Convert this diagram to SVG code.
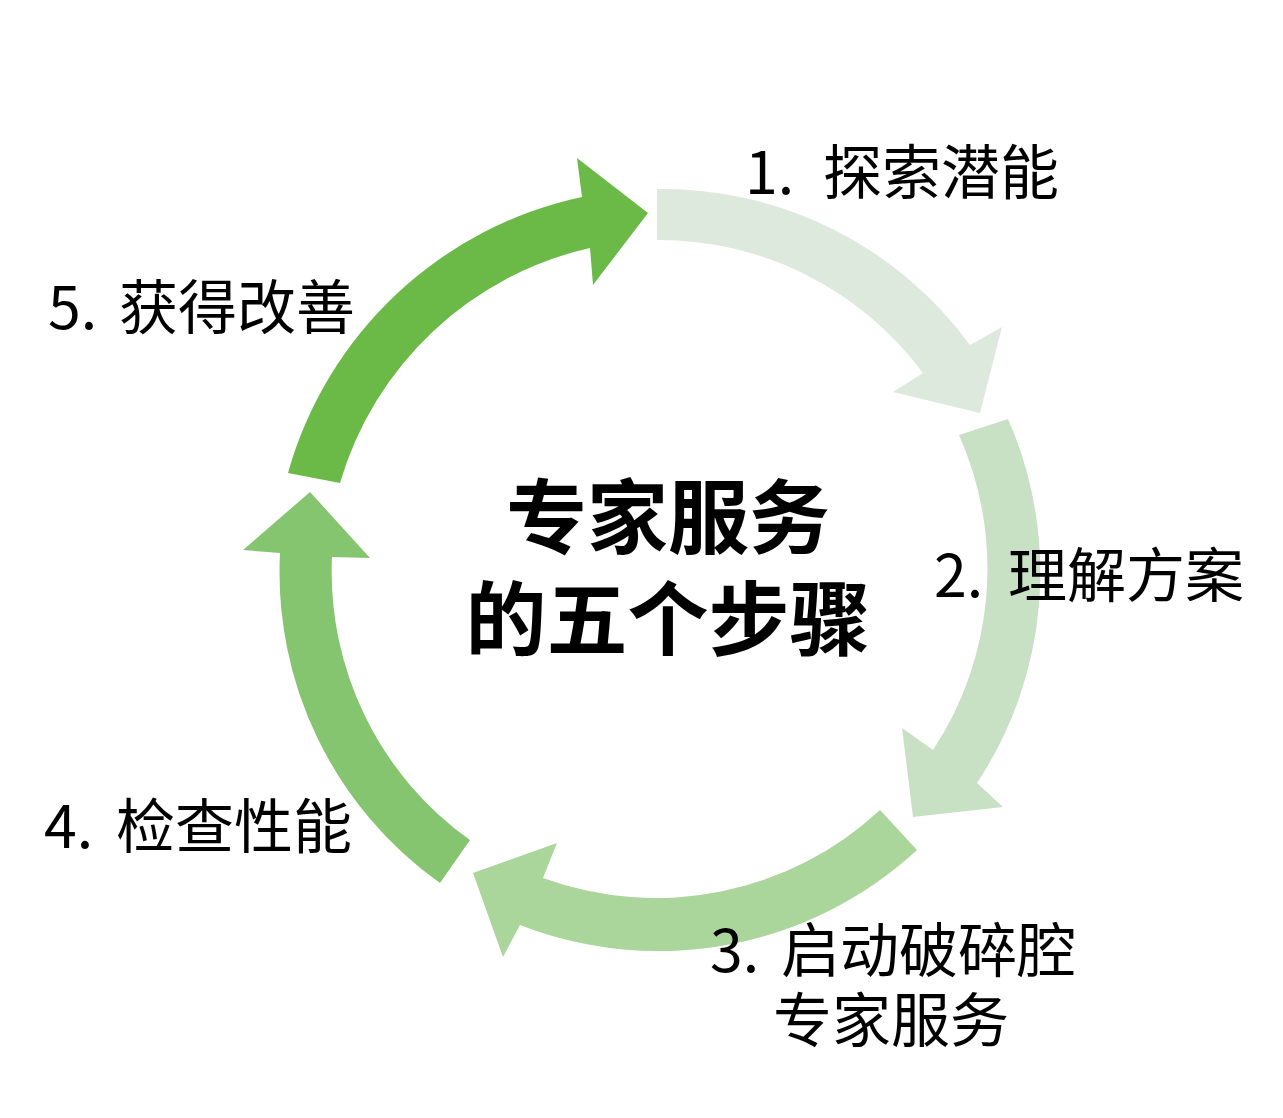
<svg xmlns="http://www.w3.org/2000/svg" width="1283" height="1118" viewBox="0 0 1283 1118">
<style>
.lbl{font-family:"Noto Sans CJK SC","Noto Sans",sans-serif;font-size:59px;fill:#000}
.title{font-family:"Noto Sans CJK SC","Noto Sans",sans-serif;font-size:81px;font-weight:700;fill:#000;text-anchor:middle}
</style>
<rect width="1283" height="1118" fill="#fff"/>
<g id="connectors">
<path id="arrow1" fill="#DDE9DC" d="M657,189 A381,381 0 0 1 970,345 L1002,327 L980,413 L893,392 L923,373 A329,329 0 0 0 657,240 Z"/>
<path id="arrow2" fill="#C8E1C4" d="M1008,419 A381,381 0 0 1 977,783 L1003,807 L913,817 L902,728 L933,750 A329,329 0 0 0 959,435 Z"/>
<path id="arrow3" fill="#AAD59B" d="M917,850 A381,381 0 0 1 520,925 L503,957 L473,873 L557,843 L543,878 A329,329 0 0 0 880,810 Z"/>
<path id="arrow4" fill="#85C56F" d="M440,883 A381,381 0 0 1 280,553 L243,550 L310,492 L370,558 L332,557 A329,329 0 0 0 470,840 Z"/>
<path id="arrow5" fill="#6BBA48" d="M288,473 A390,390 0 0 1 582,197 L577,158 L648,213 L593,285 L590,248 A338,338 0 0 0 340,483 Z"/>
</g>
<g id="title">
<text class="title" x="668" y="547">专家服务</text>
<text class="title" x="668" y="649">的五个步骤</text>
</g>
<g id="step1"><text class="lbl" y="194"><tspan x="745">1.</tspan><tspan x="823">探索潜能</tspan></text></g>
<g id="step2"><text class="lbl" y="597"><tspan x="934">2.</tspan><tspan x="1008">理解方案</tspan></text></g>
<g id="step3"><text class="lbl" y="972"><tspan x="710">3.</tspan><tspan x="781">启动破碎腔</tspan></text><text class="lbl" x="773" y="1042">专家服务</text></g>
<g id="step4"><text class="lbl" y="848"><tspan x="44">4.</tspan><tspan x="116">检查性能</tspan></text></g>
<g id="step5"><text class="lbl" y="329"><tspan x="48">5.</tspan><tspan x="119">获得改善</tspan></text></g>
</svg>
